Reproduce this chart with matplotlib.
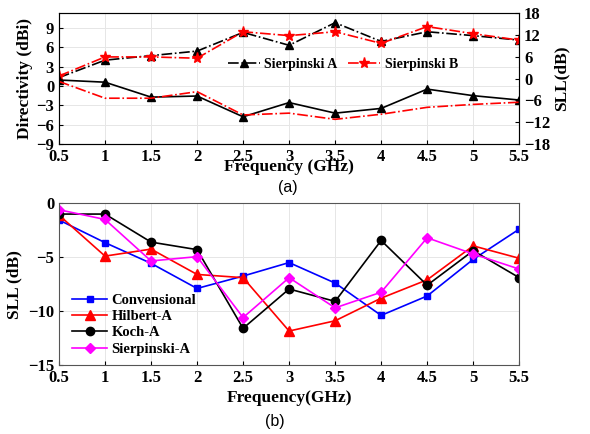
import matplotlib
matplotlib.use("Agg")
import matplotlib.pyplot as plt
import numpy as np

freq = [0.5, 1, 1.5, 2, 2.5, 3, 3.5, 4, 4.5, 5, 5.5]

# (a) directivity (left axis)
dir_sierp_a = [1.3, 4.0, 4.7, 5.4, 8.3, 6.3, 9.8, 6.9, 8.4, 7.8, 7.1]
dir_sierp_b = [1.55, 4.5, 4.5, 4.3, 8.4, 7.8, 8.4, 6.6, 9.2, 8.1, 7.1]
# (a) SLL (right axis)
sll_sierp_a = [-0.4, -1.0, -5.1, -4.8, -10.5, -6.6, -9.5, -8.2, -2.9, -4.7, -5.9]
sll_sierp_b = [-0.8, -5.4, -5.4, -3.6, -10.0, -9.5, -11.2, -9.8, -7.9, -7.1, -6.5]

# (b) SLL
conv = [-1.55, -3.65, -5.57, -7.9, -6.75, -5.5, -7.4, -10.4, -8.6, -5.2, -2.4]
hilbert = [-1.1, -4.9, -4.25, -6.6, -6.9, -11.85, -10.9, -8.8, -7.1, -3.95, -5.1]
koch = [-1.0, -1.0, -3.6, -4.3, -11.6, -7.95, -9.1, -3.45, -7.6, -4.4, -6.9]
sierp = [-0.6, -1.5, -5.35, -4.95, -10.6, -6.9, -9.7, -8.25, -3.2, -4.7, -6.1]

xtick_labels = ["0.5", "1", "1.5", "2", "2.5", "3", "3.5", "4", "4.5", "5", "5.5"]

serif = "Liberation Serif"
plt.rcParams["font.family"] = serif
plt.rcParams["font.weight"] = "bold"
plt.rcParams["axes.labelweight"] = "bold"

fig = plt.figure(figsize=(5.9, 4.34), dpi=100)

# ---------- (a) ----------
ax1 = fig.add_axes([0.1, 0.668, 0.78, 0.302])
ax1.plot(freq, dir_sierp_a, color="black", ls="-.", marker="^", ms=6, lw=1.2,
         label="Sierpinski A")
ax1.plot(freq, dir_sierp_b, color="red", ls="-.", marker="*", ms=8, lw=1.2,
         label="Sierpinski B")
ax1.set_xlim(0.5, 5.5)
ax1.set_ylim(-9, 11.3)
ax1.set_yticks([-9, -6, -3, 0, 3, 6, 9])
ax1.set_xticks(freq)
ax1.set_xticklabels(xtick_labels)
ax1.grid(True, color="#e6e6e6", lw=0.7)
ax1.set_ylabel("Directivity (dBi)", fontsize=12.5, labelpad=2)
ax1.tick_params(labelsize=12, direction="in", length=3)
for sp in ax1.spines.values():
    sp.set_color("#555555")

ax2 = ax1.twinx()
ax2.plot(freq, sll_sierp_a, color="black", ls="-", marker="^", ms=6, lw=1.2)
ax2.plot(freq, sll_sierp_b, color="red", ls="-.", lw=1.2)
ax2.set_ylim(-18, 18)
ax2.set_yticks([-18, -12, -6, 0, 6, 12, 18])
ax2.set_ylabel("SLL(dB)", fontsize=12.5, labelpad=2)
ax2.tick_params(labelsize=12, direction="in", length=3)

leg1 = ax1.legend(loc="upper left", bbox_to_anchor=(0.34, 0.75), ncol=2,
                  frameon=False, handlelength=2.3,
                  columnspacing=0.8, handletextpad=0.3,
                  prop={"family": serif, "weight": "bold", "size": 10})

fig.text(0.49, 0.615, "Frequency (GHz)", ha="center", va="center",
         fontsize=12.5, fontweight="bold", family=serif)
fig.text(0.488, 0.568, "(a)", ha="center", va="center", fontsize=11.5,
         family="Liberation Sans", fontweight="normal")

# ---------- (b) ----------
ax3 = fig.add_axes([0.1, 0.159, 0.78, 0.3726])
ax3.plot(freq, conv, color="blue", marker="s", ms=5, lw=1.2, label="Convensional")
ax3.plot(freq, hilbert, color="red", marker="^", ms=6.5, lw=1.2, label="Hilbert-A")
ax3.plot(freq, koch, color="black", marker="o", ms=6, lw=1.2, label="Koch-A")
ax3.plot(freq, sierp, color="magenta", marker="D", ms=5, lw=1.2, label="Sierpinski-A")
ax3.set_xlim(0.5, 5.5)
ax3.set_ylim(-15, 0)
ax3.set_yticks([-15, -10, -5, 0])
ax3.set_xticks(freq)
ax3.set_xticklabels(xtick_labels)
ax3.grid(True, color="#e6e6e6", lw=0.7)
ax3.set_ylabel("SLL (dB)", fontsize=12.5, labelpad=4)
ax3.set_xlabel("Frequency(GHz)", fontsize=12.5, labelpad=3)
ax3.tick_params(labelsize=12, direction="in", length=3)
for sp in ax3.spines.values():
    sp.set_color("#555555")
ax3.legend(loc="lower left", bbox_to_anchor=(0.0, -0.025), frameon=False,
           handlelength=2.4, handletextpad=0.3, labelspacing=0.22,
           prop={"family": serif, "weight": "bold", "size": 10.5})

fig.text(0.465, 0.028, "(b)", ha="center", va="center", fontsize=11.5,
         family="Liberation Sans", fontweight="normal")

fig.savefig("out.png", dpi=100)
